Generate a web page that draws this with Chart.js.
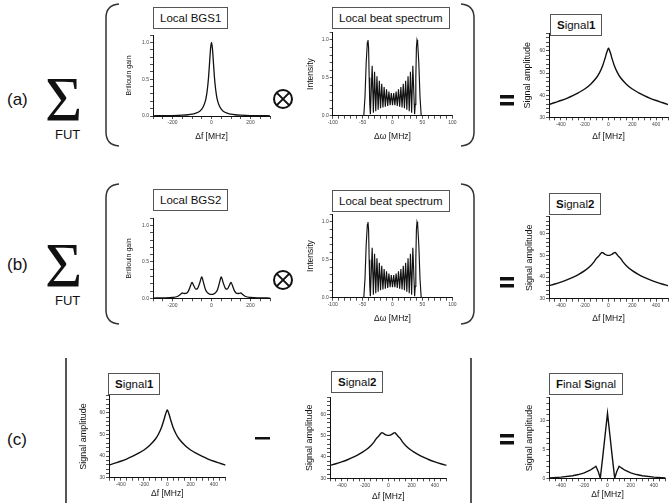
<!DOCTYPE html>
<html>
<head>
<meta charset="utf-8">
<script src="https://cdn.jsdelivr.net/npm/chart.js@4.4.1/dist/chart.umd.min.js"></script>
<style>
  html, body { margin: 0; padding: 0; background: #fff; overflow: hidden; }
  #fig { position: relative; width: 669px; height: 503px; font-family: "Liberation Sans", Arial, sans-serif; color: #111; }
  #fig canvas { position: absolute; }
  #fig svg { position: absolute; left: 0; top: 0; }
  .box { position: absolute; border: 1px solid #555; font-size: 11.5px; height: 20px; line-height: 20px; padding: 0 6px; white-space: nowrap; background: #fff; }
</style>
</head>
<body>
<div id="fig">
  <svg width="669" height="503" font-family="Liberation Sans, Arial, sans-serif" fill="#111">
    <g fill="none" stroke="#333" stroke-width="1.5">
      <path d="M119 4 Q106 5 106 18 L106 132 Q106 145 119 146"/>
      <path d="M461 4 Q474 5 474 18 L474 132 Q474 145 461 146"/>
      <path d="M119 184 Q106 185 106 198 L106 310 Q106 323 119 324"/>
      <path d="M461 184 Q474 185 474 198 L474 310 Q474 323 461 324"/>
      <circle cx="283" cy="99" r="9" stroke="#111" stroke-width="2"/>
      <path d="M276.6 92.6 L289.4 105.4 M289.4 92.6 L276.6 105.4" stroke="#111" stroke-width="2"/>
      <circle cx="283" cy="280" r="9" stroke="#111" stroke-width="2"/>
      <path d="M276.6 273.6 L289.4 286.4 M289.4 273.6 L276.6 286.4" stroke="#111" stroke-width="2"/>
      <line x1="66" y1="358" x2="66" y2="503" stroke="#555" stroke-width="2"/>
      <line x1="471" y1="358" x2="471" y2="503" stroke="#555" stroke-width="2"/>
    </g>
    <rect x="500" y="95" width="14" height="3.5"/><rect x="500" y="102" width="14" height="3.5"/>
    <rect x="500" y="277" width="14" height="3.5"/><rect x="500" y="284" width="14" height="3.5"/>
    <rect x="500" y="434" width="14" height="3.5"/><rect x="500" y="441" width="14" height="3.5"/>
    <rect x="255" y="437" width="15" height="2.5"/>
    <text x="7" y="105" font-size="17">(a)</text>
    <text x="45" y="121" font-family="Liberation Serif, serif" font-size="64">Σ</text>
    <text x="55" y="139" font-size="13">FUT</text>
    <text x="7" y="270" font-size="17">(b)</text>
    <text x="45" y="287" font-family="Liberation Serif, serif" font-size="64">Σ</text>
    <text x="55" y="305" font-size="13">FUT</text>
    <text x="7" y="445" font-size="17">(c)</text>
  </svg>
  <div class="box" style="left:153px;top:7px">Local BGS1</div>
  <div class="box" style="left:332px;top:7px">Local beat spectrum</div>
  <div class="box" style="left:550px;top:14px"><b>S</b>ignal<b>1</b></div>
  <div class="box" style="left:153px;top:189px">Local BGS2</div>
  <div class="box" style="left:332px;top:190px">Local beat spectrum</div>
  <div class="box" style="left:549px;top:193px"><b>S</b>ignal<b>2</b></div>
  <div class="box" style="left:108px;top:373px"><b>S</b>ignal<b>1</b></div>
  <div class="box" style="left:331px;top:371px"><b>S</b>ignal<b>2</b></div>
  <div class="box" style="left:549px;top:373px"><b>F</b>inal <b>S</b>ignal</div>
</div>
<script>
// ---- data ----
const bgsFreq = [-300,-250,-200,-150,-120,-100,-80,-60,-50,-40,-30,-25,-20,-15,-10,-5,0,5,10,15,20,25,30,40,50,60,80,100,120,150,200,250,300];
const bgs1Gain = [0.003,0.004,0.006,0.011,0.017,0.025,0.038,0.066,0.093,0.14,0.22,0.29,0.39,0.53,0.72,0.91,1.0,0.91,0.72,0.53,0.39,0.29,0.22,0.14,0.093,0.066,0.038,0.025,0.017,0.011,0.006,0.004,0.003];

const bgs2Freq = [-300,-250,-200,-175,-160,-150,-140,-130,-120,-110,-100,-90,-80,-75,-70,-60,-50,-40,-30,-20,-10,0,10,20,30,40,50,60,70,75,80,90,100,110,120,130,140,150,160,175,200,250,300];
const bgs2Gain = [0.003,0.006,0.012,0.025,0.052,0.073,0.066,0.067,0.092,0.155,0.218,0.169,0.127,0.128,0.142,0.215,0.293,0.205,0.115,0.076,0.058,0.054,0.058,0.076,0.115,0.205,0.293,0.215,0.142,0.128,0.127,0.169,0.218,0.155,0.092,0.067,0.066,0.073,0.052,0.025,0.012,0.006,0.003];

const beatFreq = [-100,-50,-48,-46,-44,-42,-41,-40,-39,-38,-37,-34,-32,-30,-28,-26,-24,-22,-20,-18,-16,-14,-12,-10,-8,-6,-4,-2,0,2,4,6,8,10,12,14,16,18,20,22,24,26,28,30,32,34,37,38,39,40,41,42,44,46,48,50,100];
const beatInt = [0,0,0,0.25,0.7,0.97,1.0,0.9,0.5,0.15,0.02,0.66,0.04,0.58,0.06,0.52,0.08,0.46,0.1,0.42,0.11,0.38,0.12,0.35,0.13,0.32,0.14,0.3,0.14,0.3,0.14,0.32,0.13,0.35,0.12,0.38,0.11,0.42,0.1,0.46,0.08,0.52,0.06,0.58,0.04,0.66,0.02,0.15,0.5,0.9,1.0,0.97,0.7,0.25,0,0,0];

const sig1Freq = [-500,-450,-400,-350,-300,-250,-200,-150,-100,-75,-50,-30,-15,-5,0,5,15,30,50,75,100,150,200,250,300,350,400,450,500];
const signal1 = [35.8,36.7,37.6,38.6,39.8,41.2,42.8,45.0,48.0,50.2,53.2,56.5,59.3,60.8,61.3,60.8,59.3,56.5,53.2,50.2,48.0,45.0,42.8,41.2,39.8,38.6,37.6,36.7,35.8];

const sig2Freq = [-500,-450,-400,-350,-300,-250,-200,-150,-120,-100,-85,-70,-55,-45,-30,-15,0,15,30,45,55,70,85,100,120,150,200,250,300,350,400,450,500];
const signal2 = [36.0,36.8,37.7,38.7,39.9,41.3,43.0,45.3,47.2,48.8,49.6,50.6,51.4,51.2,50.6,50.2,50.1,50.2,50.6,51.2,51.4,50.6,49.6,48.8,47.2,45.3,43.0,41.3,39.9,38.7,37.7,36.8,36.0];

const finalFreq = [-500,-400,-300,-250,-200,-150,-120,-100,-80,-62,-40,-20,0,20,40,62,80,100,120,150,200,250,300,400,500];
const finalSig = [0.05,0.2,0.45,0.65,0.95,1.4,1.8,2.1,1.2,0.0,3.9,7.6,11.3,7.6,3.9,0.0,1.2,2.1,1.8,1.4,0.95,0.65,0.45,0.2,0.05];

// tick labels
const gainTicks = [0, 0.5, 1.0];
const bgsFreqTicks = [-200, 0, 200];
const beatFreqTicks = [-100, -50, 0, 50, 100];
const sigFreqTicks = [-400, -200, 0, 200, 400];
const ampTicks = [30, 40, 50, 60];
const finalTicks = [0, 5, 10];

const FONT = '"Liberation Sans", Arial, sans-serif';
Chart.defaults.font.family = FONT;
const fig = document.getElementById('fig');

function axis(a, title, size, vertical) {
  return {
    type: 'linear', min: a.min, max: a.max,
    afterFit: s => { if (vertical) s.width = size; else s.height = size; },
    grid: { drawOnChartArea: false, drawTicks: true, tickLength: 3, color: '#222', lineWidth: 0.8 },
    border: { display: true, color: '#111', width: 1 },
    ticks: {
      stepSize: a.step, autoSkip: false, maxRotation: 0, padding: 1, color: '#444',
      font: { size: 5 },
      callback: v => {
        const r = Math.round(v * 1000) / 1000;
        return a.labels.includes(r) ? (a.fmt ? r.toFixed(a.fmt) : String(r)) : '';
      }
    },
    title: title ? { display: true, text: title[0], padding: 0, color: '#111', font: { size: title[2] } } : { display: false }
  };
}

function makeChart(c) {
  const [l, t, r, b] = c.plot;
  const cl = Math.floor(c.yT[1] - 0.6 * c.yT[2]);
  const ct = Math.floor(t - 4);
  const cb = c.xT ? Math.ceil(c.xT[1] + 0.6 * c.xT[2]) : Math.ceil(b + 12);
  const cr = Math.ceil(r + (c.padR || 2));
  const cv = document.createElement('canvas');
  cv.width = cr - cl; cv.height = cb - ct;
  cv.style.left = cl + 'px'; cv.style.top = ct + 'px';
  fig.appendChild(cv);
  new Chart(cv, {
    type: 'line',
    data: { datasets: [{
      data: c.xs.map((x, i) => ({ x: x, y: c.ys[i] })),
      borderColor: '#111', borderWidth: c.lw, pointRadius: 0,
      tension: c.smooth ? 0.4 : 0, cubicInterpolationMode: c.smooth ? 'monotone' : 'default'
    }] },
    options: {
      responsive: false, animation: false, events: [],
      layout: { padding: { top: t - ct, right: cr - r, left: 0, bottom: 0 } },
      plugins: { legend: { display: false }, tooltip: { enabled: false } },
      scales: {
        x: axis(c.x, c.xT, cb - b, false),
        y: axis(c.y, c.yT, l - cl, true)
      }
    }
  });
}

const gainY = { min: 0, max: 1.1, step: 0.1, labels: gainTicks, fmt: 1 };
const bgsX = { min: -300, max: 300, step: 50, labels: bgsFreqTicks };
const beatX = { min: -100, max: 100, step: 10, labels: beatFreqTicks };
const sigX = { min: -500, max: 500, step: 50, labels: sigFreqTicks };
const ampY = { min: 30, max: 68, step: 2, labels: ampTicks };
const finalY = { min: 0, max: 14, step: 1, labels: finalTicks };

[
  { plot: [153, 35, 270, 116], yT: ['Brillouin gain', 130, 7], xT: ['Δf [MHz]', 136, 8.5], x: bgsX, y: gainY, xs: bgsFreq, ys: bgs1Gain, lw: 1.3, smooth: true },
  { plot: [332.7, 32.4, 452.3, 115.7], yT: ['Intensity', 312, 8.5], xT: ['Δω [MHz]', 136, 8.5], x: beatX, y: gainY, xs: beatFreq, ys: beatInt, lw: 1.15, padR: 6 },
  { plot: [549, 33.3, 668.5, 117.3], yT: ['Signal amplitude', 528, 9], xT: ['Δf [MHz]', 136, 8.5], x: sigX, y: ampY, xs: sig1Freq, ys: signal1, lw: 1.4, smooth: true, padR: 0.5 },
  { plot: [153, 218.4, 270, 298.3], yT: ['Brillouin gain', 130, 7], xT: null, x: bgsX, y: gainY, xs: bgs2Freq, ys: bgs2Gain, lw: 1.3, smooth: true },
  { plot: [332.7, 214.4, 452.3, 297.7], yT: ['Intensity', 312, 8.5], xT: ['Δω [MHz]', 318, 8.5], x: beatX, y: gainY, xs: beatFreq, ys: beatInt, lw: 1.15, padR: 6 },
  { plot: [549, 216.7, 668.5, 298.7], yT: ['Signal amplitude', 530, 9], xT: ['Δf [MHz]', 318, 8.5], x: sigX, y: ampY, xs: sig2Freq, ys: signal2, lw: 1.4, smooth: true, padR: 0.5 },
  { plot: [109, 395.4, 225.6, 477.7], yT: ['Signal amplitude', 84, 9], xT: ['Δf [MHz]', 493, 8.5], x: sigX, y: ampY, xs: sig1Freq, ys: signal1, lw: 1.4, smooth: true },
  { plot: [330, 397.2, 446.6, 478.3], yT: ['Signal amplitude', 310, 9], xT: ['Δf [MHz]', 496, 8.5], x: sigX, y: ampY, xs: sig2Freq, ys: signal2, lw: 1.4, smooth: true },
  { plot: [549.4, 397.7, 665.6, 478.3], yT: ['Signal amplitude', 530, 9], xT: ['Δf [MHz]', 494, 8.5], x: sigX, y: finalY, xs: finalFreq, ys: finalSig, lw: 1.4 }
].forEach(makeChart);
</script>
</body>
</html>
